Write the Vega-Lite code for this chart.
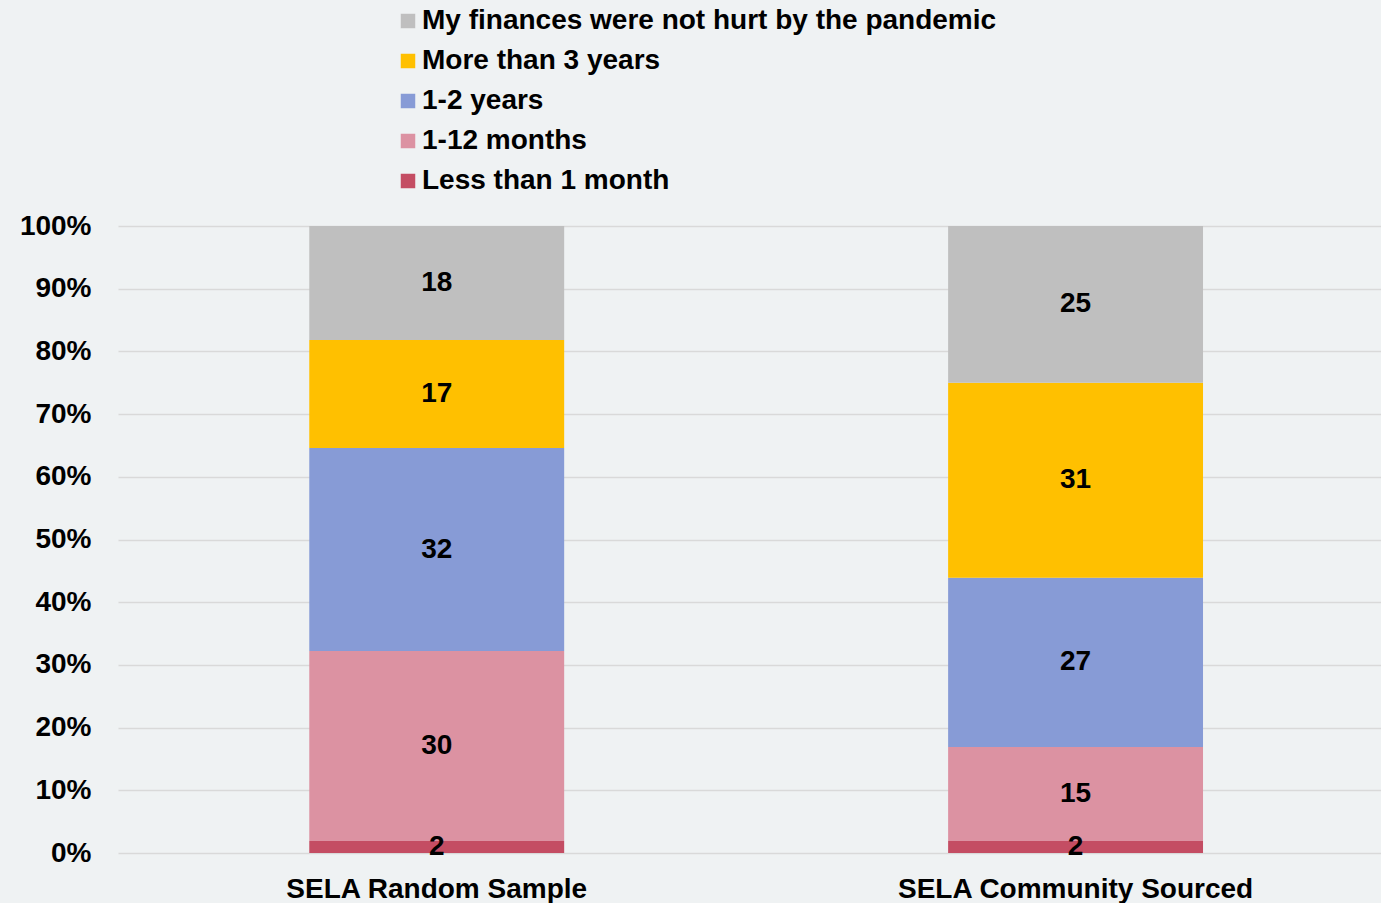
{
  "$schema": "https://vega.github.io/schema/vega-lite/v6.json",
  "width": 1263,
  "height": 627,
  "autosize": {"type": "none"},
  "padding": {"left": 118, "top": 226, "right": 0, "bottom": 50},
  "background": "#eff2f3",
  "config": {
    "font": "Liberation Sans",
    "view": {"stroke": null},
    "axis": {"labelFont": "Liberation Sans", "labelFontWeight": "bold", "labelColor": "#000000"},
    "legend": {"labelFont": "Liberation Sans", "labelFontWeight": "bold", "labelColor": "#000000"}
  },
  "data": {
    "values": [
      {"sample": "SELA Random Sample", "answer": "Less than 1 month", "ord": 0, "value": 1.9},
      {"sample": "SELA Random Sample", "answer": "1-12 months", "ord": 1, "value": 30.3},
      {"sample": "SELA Random Sample", "answer": "1-2 years", "ord": 2, "value": 32.4},
      {"sample": "SELA Random Sample", "answer": "More than 3 years", "ord": 3, "value": 17.2},
      {"sample": "SELA Random Sample", "answer": "My finances were not hurt by the pandemic", "ord": 4, "value": 18.2},
      {"sample": "SELA Community Sourced", "answer": "Less than 1 month", "ord": 0, "value": 1.9},
      {"sample": "SELA Community Sourced", "answer": "1-12 months", "ord": 1, "value": 15.0},
      {"sample": "SELA Community Sourced", "answer": "1-2 years", "ord": 2, "value": 27.0},
      {"sample": "SELA Community Sourced", "answer": "More than 3 years", "ord": 3, "value": 31.1},
      {"sample": "SELA Community Sourced", "answer": "My finances were not hurt by the pandemic", "ord": 4, "value": 25.0}
    ]
  },
  "transform": [
    {"stack": "value", "groupby": ["sample"], "sort": [{"field": "ord"}], "as": ["y0", "y1"], "offset": "normalize"},
    {"calculate": "(datum.y0 + datum.y1) / 2", "as": "mid"}
  ],
  "encoding": {
    "x": {
      "field": "sample",
      "type": "nominal",
      "sort": ["SELA Random Sample", "SELA Community Sourced"],
      "scale": {"paddingInner": 0.601, "paddingOuter": 0.289, "align": 0.518},
      "axis": {"title": null, "labelAngle": 0, "labelFontSize": 28, "labelPadding": 22, "labelLimit": 1000, "ticks": false, "domain": false, "grid": false}
    }
  },
  "layer": [
    {
      "mark": {"type": "bar"},
      "encoding": {
        "y": {
          "field": "y0",
          "type": "quantitative",
          "scale": {"domain": [0, 1]},
          "axis": {
            "title": null,
            "format": ".0%",
            "values": [0, 0.1, 0.2, 0.3, 0.4, 0.5, 0.6, 0.7, 0.8, 0.9, 1],
            "labelFontSize": 28,
            "labelPadding": 27,
            "ticks": false,
            "domain": false,
            "grid": true,
            "gridColor": "#d9d9d9",
            "gridWidth": 1.5
          }
        },
        "y2": {"field": "y1"},
        "color": {
          "field": "answer",
          "type": "nominal",
          "scale": {
            "domain": ["My finances were not hurt by the pandemic", "More than 3 years", "1-2 years", "1-12 months", "Less than 1 month"],
            "range": ["#bfbfbf", "#ffc000", "#879bd6", "#dc92a2", "#c44d63"]
          },
          "legend": {
            "title": null,
            "orient": "none",
            "legendX": 276,
            "legendY": -219,
            "symbolType": "square",
            "symbolSize": 210,
            "symbolStrokeWidth": 0,
            "labelFontSize": 28,
            "labelOffset": 0,
            "rowPadding": 12,
            "labelLimit": 1000,
            "padding": 0
          }
        }
      }
    },
    {
      "mark": {"type": "text", "fontSize": 28, "fontWeight": "bold", "color": "#000000", "baseline": "middle"},
      "encoding": {
        "y": {"field": "mid", "type": "quantitative"},
        "text": {"field": "value", "type": "quantitative", "format": ".0f"}
      }
    }
  ]
}
